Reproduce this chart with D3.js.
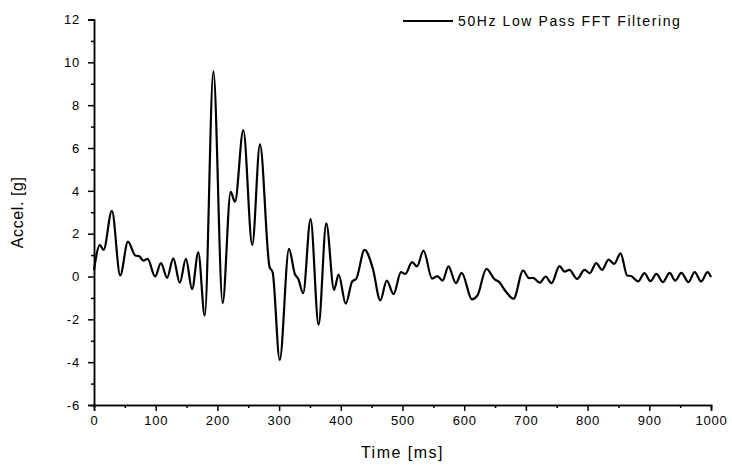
<!DOCTYPE html>
<html>
<head>
<meta charset="utf-8">
<script src="https://cdn.jsdelivr.net/npm/d3@7"></script>
<style>
  body { margin: 0; background: #fff; }
  text { font-family: "Liberation Sans", Arial, sans-serif; fill: #000; }
</style>
</head>
<body>
<figure id="chart" style="margin:0"></figure>
<script>
// values
const timeMs = [0, 9.5, 15.5, 29, 42.5, 55, 67, 73, 80, 87, 99, 108.5, 118.5, 128.5, 139, 149, 159, 169, 179.5,
  193.5, 208.5, 221.5, 228.5, 242, 256.5, 269, 284.5, 289.5, 301, 316, 325.5, 331, 339, 351, 364, 376.5, 389,
  396.5, 408, 418.5, 425, 438.5, 452, 464, 474.5, 485.5, 497.5, 504.5, 515.5, 523.5, 534, 548, 556.5, 565,
  574.5, 586.5, 596, 612.5, 621.5, 636, 650, 655.5, 667.5, 680, 695.5, 705, 711.5, 722.5, 732, 741.5, 754.5,
  762.5, 770.5, 783, 795, 803.5, 814, 823.5, 834, 843, 853.5, 864, 870.5, 882, 892, 902, 911.5, 922, 933, 942,
  952, 963.5, 973.5, 984, 994.5, 1000];
const accelG = [0.3, 1.47, 1.24, 3.07, 0.05, 1.63, 0.98, 0.95, 0.74, 0.82, 0.0, 0.62, -0.06, 0.85, -0.29, 0.82, -0.59, 1.13, -1.83,
  9.58, -1.24, 3.95, 3.49, 6.84, 1.47, 6.17, 0.45, 0.2, -3.9, 1.29, 0.12, -0.11, -0.78, 2.68, -2.25, 2.48, -0.62,
  0.09, -1.27, -0.23, -0.11, 1.24, 0.36, -1.12, -0.19, -0.82, 0.2, 0.12, 0.67, 0.47, 1.21, -0.1, 0.02, -0.19,
  0.47, -0.31, 0.17, -1.07, -0.88, 0.36, -0.15, -0.23, -0.7, -1.04, 0.28, -0.08, -0.06, -0.29, 0.0, -0.31, 0.48,
  0.23, 0.31, -0.11, 0.31, 0.16, 0.62, 0.31, 0.79, 0.59, 1.08, 0.05, 0.02, -0.23, 0.16, -0.22, 0.12, -0.26, 0.17, -0.19,
  0.17, -0.26, 0.2, -0.23, 0.2, -0.03];
const xTicks = [0, 100, 200, 300, 400, 500, 600, 700, 800, 900, 1000];
const yTicks = [-6, -4, -2, 0, 2, 4, 6, 8, 10, 12];
const seriesName = "50Hz Low Pass FFT Filtering";

const margin = { top: 19.5, right: 21, bottom: 63, left: 94 };
const width = 732 - margin.left - margin.right;
const height = 468 - margin.top - margin.bottom;

const svg = d3.select("figure#chart")
  .append("svg")
  .attr("width", 732)
  .attr("height", 468)
  .append("g")
  .attr("transform", "translate(" + margin.left + "," + margin.top + ")");

// plain hyphen, no thousands comma
const fmt = d => String(d);

// X axis
const x = d3.scaleLinear().domain([0, 1000]).range([0, width]);
const xAxis = svg.append("g")
  .attr("transform", "translate(0," + height + ")");
xAxis.append("g")
  .call(d3.axisBottom(x).tickValues(d3.range(50, 1000, 100)).tickSize(3).tickFormat(""));
xAxis.append("g")
  .call(d3.axisBottom(x).tickValues(xTicks).tickSize(6).tickPadding(5).tickFormat(fmt));

// Y axis
const y = d3.scaleLinear().domain([-6, 12]).range([height, 0]);
const yAxis = svg.append("g");
yAxis.append("g")
  .call(d3.axisLeft(y).tickValues(d3.range(-5, 12, 2)).tickSize(3).tickFormat(""));
yAxis.append("g")
  .call(d3.axisLeft(y).tickValues(yTicks).tickSize(6).tickPadding(8).tickFormat(fmt));

svg.selectAll(".domain").attr("stroke-width", 1.5).attr("stroke", "#000");
svg.selectAll(".tick line").attr("stroke-width", 1.5).attr("stroke", "#000");
svg.selectAll(".tick text")
  .style("font-size", "13px")
  .style("letter-spacing", "0.8px")
  .style("font-family", "'Liberation Sans', Arial, sans-serif");

// the signal
const pts = timeMs.map((t, i) => [t, accelG[i]]);
svg.append("path")
  .datum(pts)
  .attr("fill", "none")
  .attr("stroke", "#000")
  .attr("stroke-width", 2.2)
  .attr("stroke-linejoin", "round")
  .attr("d", d3.line()
    .x(d => x(d[0]))
    .y(d => y(d[1]))
    .curve(d3.curveMonotoneX));

// axis titles
svg.append("text")
  .attr("x", width / 2)
  .attr("y", height + 53)
  .attr("text-anchor", "middle")
  .style("font-size", "16px")
  .style("letter-spacing", "1.5px")
  .text("Time [ms]");

svg.append("text")
  .attr("transform", "translate(" + (-71) + "," + (height / 2) + ") rotate(-90)")
  .attr("text-anchor", "middle")
  .style("font-size", "16px")
  .style("letter-spacing", "0.6px")
  .text("Accel. [g]");

// legend
const legend = svg.append("g").attr("transform", "translate(" + (403 - margin.left) + "," + (21 - margin.top) + ")");
legend.append("line")
  .attr("x1", 0).attr("x2", 50)
  .attr("y1", 0).attr("y2", 0)
  .attr("stroke", "#000")
  .attr("stroke-width", 2);
legend.append("text")
  .attr("x", 55)
  .attr("y", 5)
  .style("font-size", "14px")
  .style("letter-spacing", "1.6px")
  .text(seriesName);
</script>
</body>
</html>
